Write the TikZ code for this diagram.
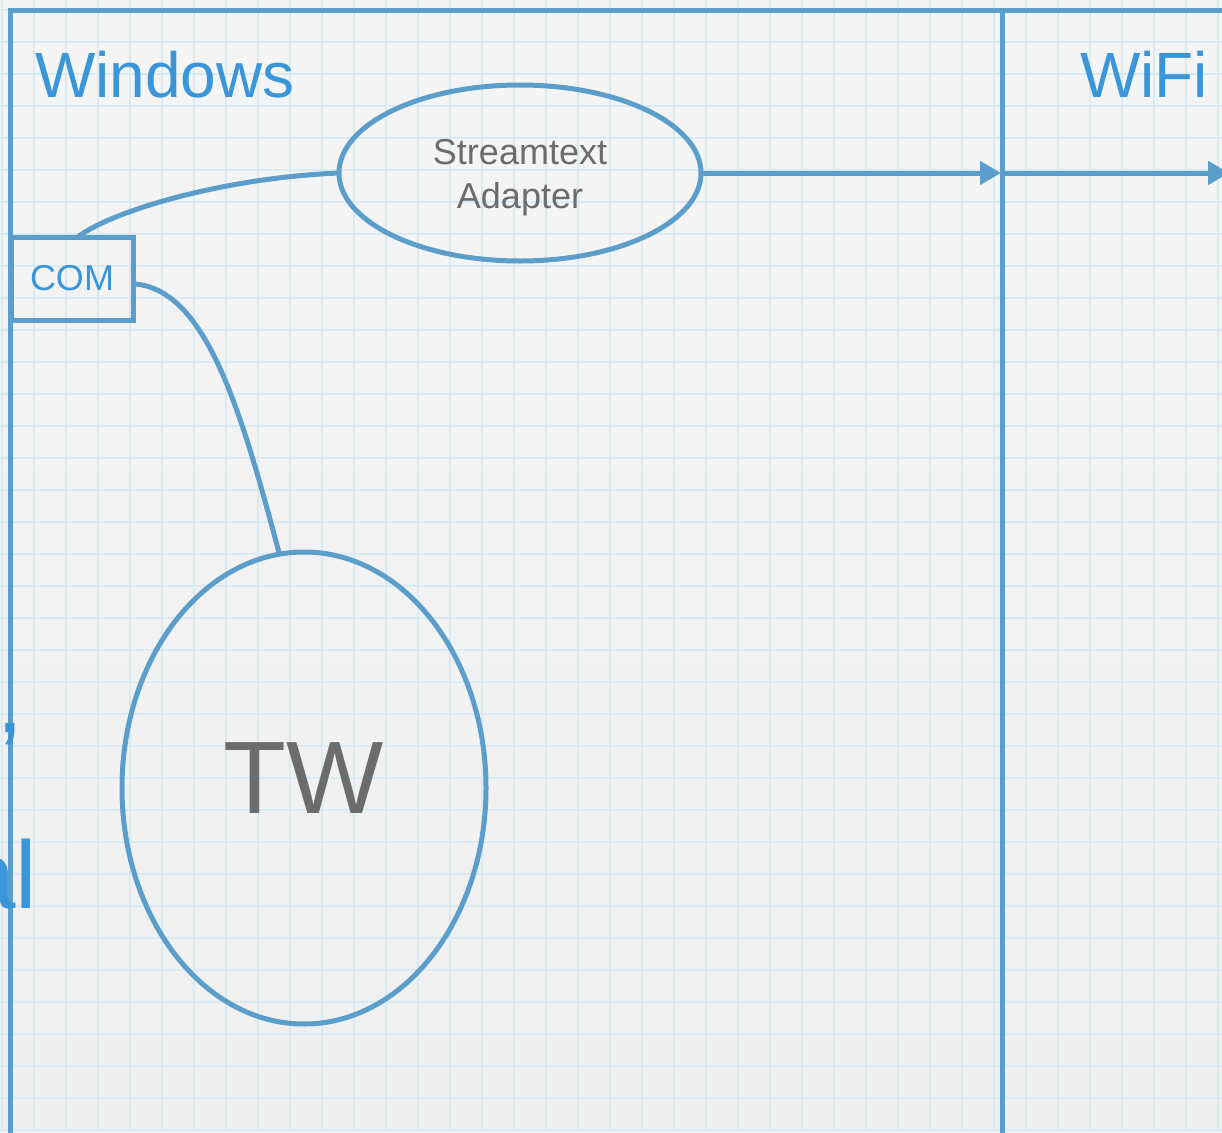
\documentclass[tikz,border=0pt]{standalone}
\usepackage{fontspec}
\setmainfont{Liberation Sans}
\usetikzlibrary{arrows.meta,shapes.geometric}
\definecolor{laneblue}{RGB}{92,158,203}
\definecolor{titleblue}{RGB}{58,149,217}
\definecolor{textgray}{RGB}{108,108,108}
\definecolor{gridblue}{RGB}{217,234,242}

\begin{document}
\begin{tikzpicture}[x=1pt, y=-1pt,
    lane/.style = {draw=laneblue, line width=5pt},
    blob/.style = {lane, ellipse, inner sep=0pt, outer sep=0pt, text=textgray},
    port/.style = {lane, rectangle, inner sep=0pt, outer sep=0pt, text=titleblue},
    title/.style = {text=titleblue, inner sep=0pt, font=\fontsize{64}{77}\selectfont},
    minor/.style = {draw=gridblue, line width=1.6pt},
    major/.style = {draw=gridblue, line width=2.8pt},
    flow/.style = {lane, -{Triangle[length=21pt,width=23pt]}}]
  \useasboundingbox (0,0) rectangle (1222,1132);
  \clip (0,0) rectangle (1222,1132);
  \shade[top color={rgb,255:red,245;green,245;blue,245}, bottom color={rgb,255:red,239;green,239;blue,239}] (0,0) rectangle (1222,1132);

  % grid paper
  \foreach \x in {2,34,...,1222} \draw[minor] (\x,0) -- (\x,1132);
  \foreach \y in {10,42,...,1132} \draw[minor] (0,\y) -- (1222,\y);
  \foreach \x in {98,290,...,1222} \draw[major] (\x,0) -- (\x,1132);
  \foreach \y in {42,234,...,1132} \draw[major] (0,\y) -- (1222,\y);

  % lanes
  \draw[lane] (10,11) rectangle (1260,1160);
  \coordinate (divtop) at (1002,9);
  \coordinate (divbot) at (1002,1160);
  \draw[lane] (divtop) -- (divbot);

  \node[title, anchor=base west] (windows) at (35,97) {Windows};
  \node[title, anchor=base west] (wifi) at (1080,97) {WiFi};

  % text cut off by the left edge
  \node[title, anchor=north east, font=\fontsize{96}{115}\selectfont] (quote) at (21,723) {’};
  \node[title, anchor=base east, font=\fontsize{96}{115}\selectfont] (serial) at (37,908) {al};

  \node[blob, minimum width=362pt, minimum height=176pt, align=center, font=\fontsize{36}{44}\selectfont] (adapter) at (520,173) {\rule{0pt}{34pt}Streamtext\\Adapter};
  \node[port, minimum width=122pt, minimum height=83pt, font=\fontsize{36}{43}\selectfont] (com) at (72,278.5) {COM};
  \node[blob, minimum width=364pt, minimum height=472pt, text depth=20pt, font=\fontsize{103}{124}\selectfont] (tw) at (304,788) {TW};

  \coordinate (wifiin) at (1001,173);
  \coordinate (wifiout) at (1229,173);

  \draw[flow] (adapter.east) -- (wifiin);
  \draw[flow] (wifiin) -- (wifiout);

  \draw[lane] (com.82) .. controls (110,212) and (220,178) .. (adapter.west);
  \draw[lane] (com.-5) .. controls (205,288) and (240,406) .. (tw.96);
\end{tikzpicture}
\end{document}
